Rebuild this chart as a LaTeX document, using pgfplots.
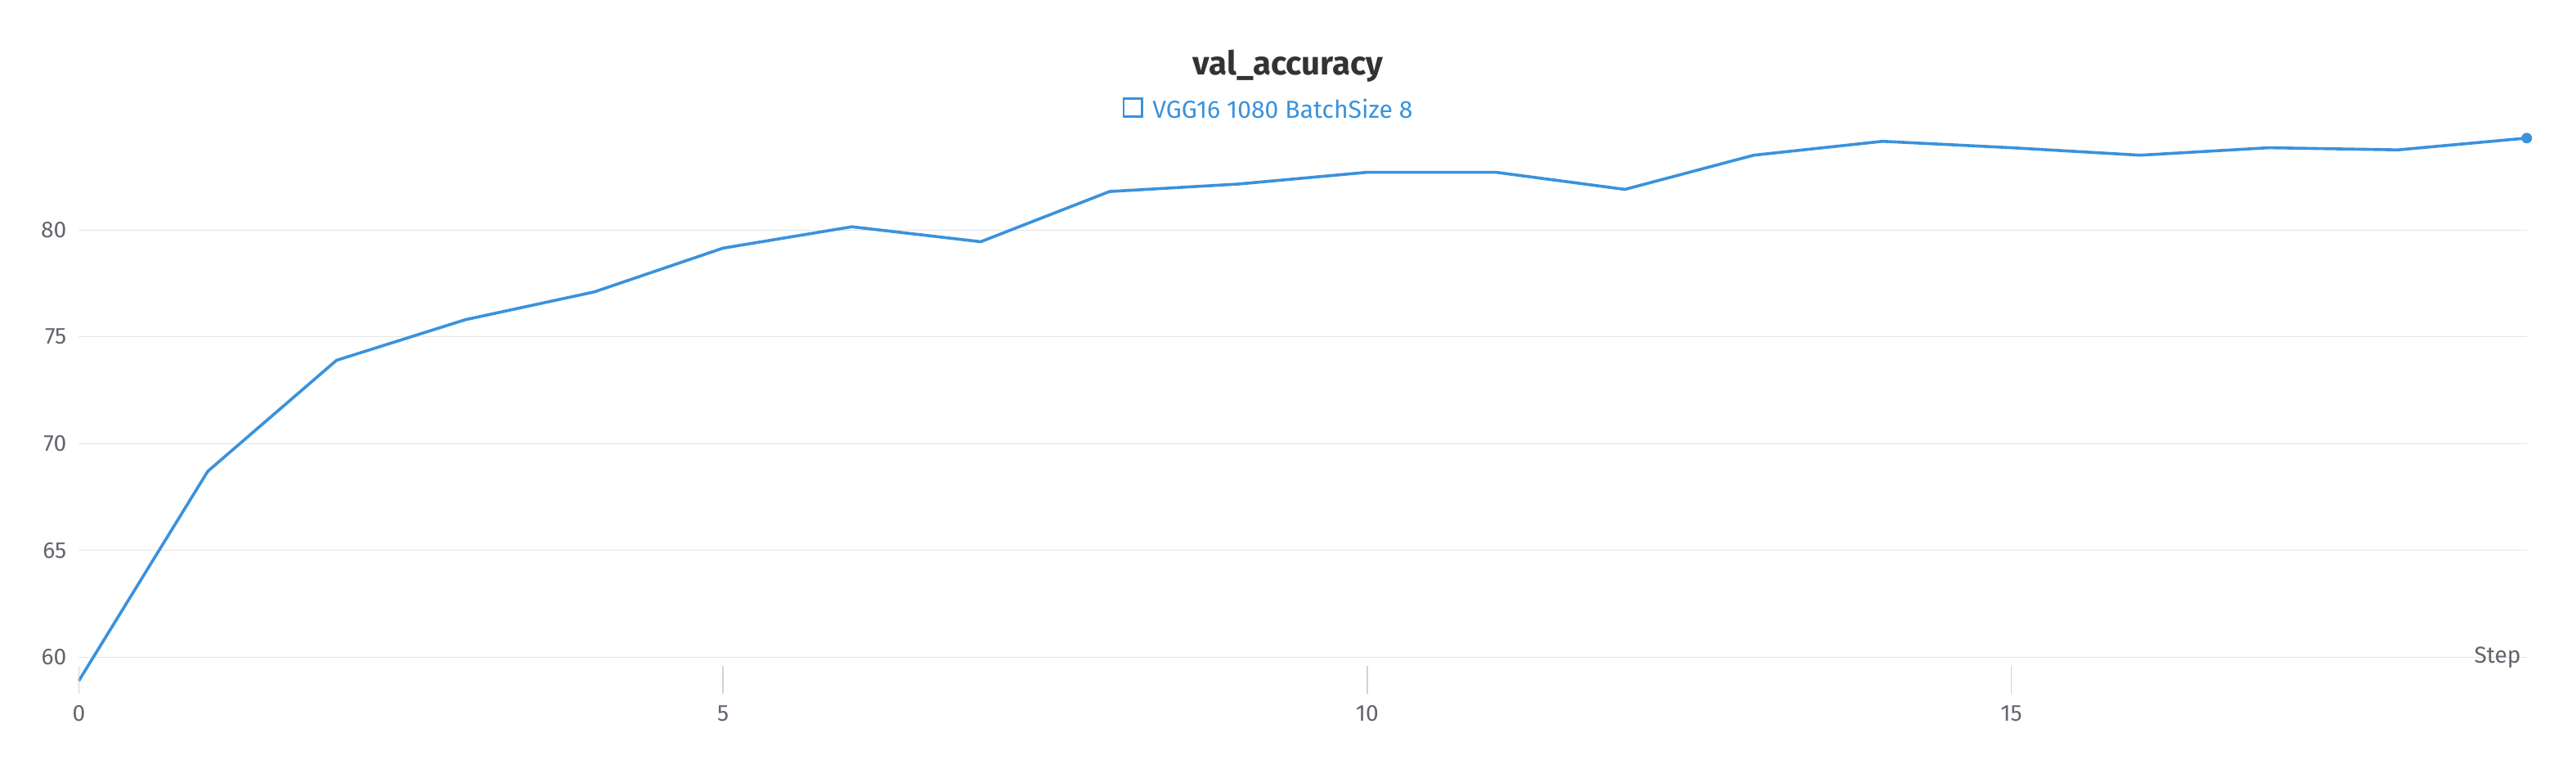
\documentclass[border=0pt]{standalone}
\usepackage{pgfplots}
\pgfplotsset{compat=1.18}
\usepackage{fontspec}
\setmainfont{Fira Sans}
\definecolor{lineblue}{RGB}{58,146,220}
\definecolor{tickgray}{RGB}{100,100,110}
\begin{document}
\begin{tikzpicture}
\useasboundingbox (0pt,0pt) rectangle (1568pt,462pt);
\begin{axis}[
  at={(48pt,40pt)}, anchor=south west, scale only axis,
  width=1490pt, height=362pt,
  xmin=0, xmax=19, ymin=58.3, ymax=86.15,
  axis line style={draw=none},
  xtick={0,5,10,15}, ytick={60,65,70,75,80},
  ymajorgrids, grid style={draw=gray!20, line width=0.6pt},
  major tick length=0pt,
  ticklabel style={font=\fontsize{14}{14}\selectfont, text=tickgray},
  /pgf/number format/assume math mode=true,
  xticklabel style={yshift=-4pt},
  yticklabel style={xshift=-4pt},
  clip=false,
]
\addplot[lineblue, line width=1.8pt] coordinates {
(0,58.9)(1,68.7)(2,73.9)(3,75.8)(4,77.1)(5,79.15)(6,80.15)(7,79.45)(8,81.8)(9,82.15)(10,82.7)(11,82.7)(12,81.9)(13,83.5)(14,84.15)(15,83.85)(16,83.5)(17,83.85)(18,83.75)(19,84.3)};
\addplot[only marks, mark=*, mark size=3pt, lineblue] coordinates {(19,84.3)};
\draw[gray!35, line width=0.8pt] (axis cs:0,58.3) -- (axis cs:0,59.6);
\draw[gray!35, line width=0.8pt] (axis cs:5,58.3) -- (axis cs:5,59.6);
\draw[gray!35, line width=0.8pt] (axis cs:10,58.3) -- (axis cs:10,59.6);
\draw[gray!35, line width=0.8pt] (axis cs:15,58.3) -- (axis cs:15,59.6);
\node[font=\fontsize{14}{14}\selectfont, text=tickgray, anchor=east] at (axis cs:19,60) {Step};
\end{axis}
\node[font=\fontsize{20}{20}\selectfont\bfseries, text=black!80] at (784pt,422pt) {val\_accuracy};
\node[font=\fontsize{15}{15}\selectfont, text=lineblue, anchor=west] at (698pt,396pt) {VGG16 1080 BatchSize 8};
\draw[lineblue, line width=1.3pt] (684pt,391pt) rectangle (695pt,402pt);
\end{tikzpicture}
\end{document}
